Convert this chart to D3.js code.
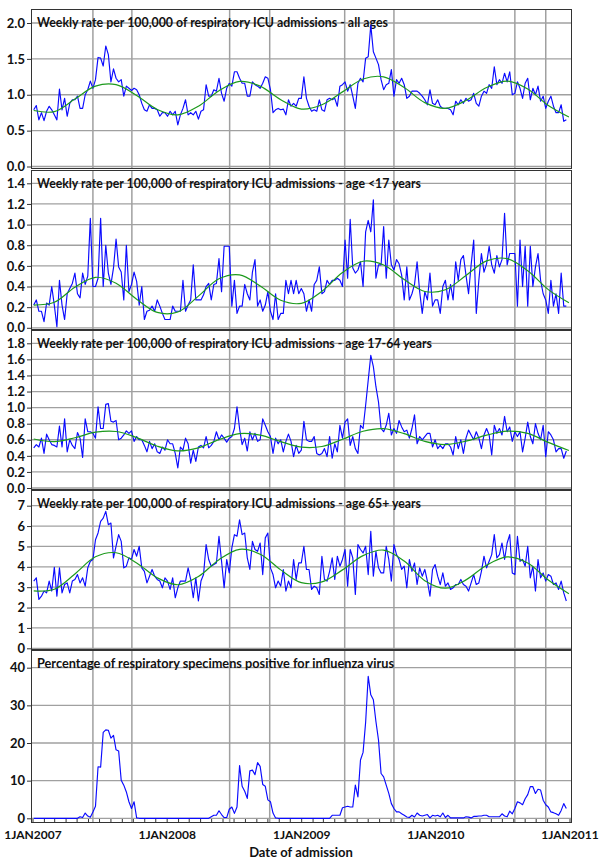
<!DOCTYPE html>
<html><head><meta charset="utf-8">
<script src="https://cdn.jsdelivr.net/npm/d3@7"></script>
<style>body{margin:0;background:#fff}svg{display:block}</style>
</head><body>
<svg id="chart" width="600" height="868"></svg>
<script>
// ---------------- DATA ----------------
const weekStart = "2007-01-03";           // first weekly observation
const smoothStepWeeks = 8;                 // smoothed curve knots every 8 weeks
const yearTickDates = ["2007-01-01","2008-01-01","2009-01-01","2010-01-01","2011-01-01"];
const yearTickLabels = ["1JAN2007","1JAN2008","1JAN2009","1JAN2010","1JAN2011"];
const seasonLineDates = ["2007-06-13","2007-09-27","2008-06-19","2008-10-06","2009-04-28","2009-09-09","2010-08-04","2010-10-27"];
const xAxisTitle = "Date of admission";

const panelTitles = [
  "Weekly rate per 100,000 of respiratory ICU admissions - all ages",
  "Weekly rate per 100,000 of respiratory ICU admissions - age <17 years",
  "Weekly rate per 100,000 of respiratory ICU admissions - age 17-64 years",
  "Weekly rate per 100,000 of respiratory ICU admissions - age 65+ years",
  "Percentage of respiratory specimens positive for influenza virus"
];

const yTicksAll = [0,0.5,1,1.5,2];
const yTickLabelsAll = ["0.0","0.5","1.0","1.5","2.0"];
const yTicksChild = [0,0.2,0.4,0.6,0.8,1.0,1.2,1.4];
const yTickLabelsChild = ["0.0","0.2","0.4","0.6","0.8","1.0","1.2","1.4"];
const yTicksAdult = [0,0.2,0.4,0.6,0.8,1.0,1.2,1.4,1.6,1.8];
const yTickLabelsAdult = ["0.0","0.2","0.4","0.6","0.8","1.0","1.2","1.4","1.6","1.8"];
const yTicksElder = [0,1,2,3,4,5,6,7];
const yTickLabelsElder = ["0","1","2","3","4","5","6","7"];
const yTicksFlu = [0,10,20,30,40];
const yTickLabelsFlu = ["0","10","20","30","40"];

const rateAllAges = [
0.79,0.85,0.65,0.75,0.64,0.77,0.84,0.79,0.72,0.65,
1.08,0.79,0.95,0.70,0.88,0.93,0.93,0.98,0.81,0.81,
1.00,1.07,1.19,1.09,1.21,1.52,1.51,1.40,1.68,1.56,
1.18,1.36,1.23,1.18,1.21,0.98,1.12,1.09,1.06,1.09,
1.07,1.00,0.88,0.79,0.77,0.86,0.81,0.81,0.79,0.70,
0.75,0.75,0.70,0.77,0.72,0.77,0.58,0.72,0.81,0.93,
0.72,0.75,0.72,0.77,0.66,0.77,0.79,1.14,0.98,0.98,
1.07,1.05,1.23,1.02,0.91,1.09,1.16,1.12,1.32,1.32,
1.23,1.16,1.16,0.98,0.98,1.18,1.14,1.12,1.09,1.16,
1.25,1.23,1.07,0.75,0.79,0.81,0.79,0.80,0.72,0.93,
0.84,0.88,0.84,0.95,
0.95,1.25,0.95,0.84,0.77,0.79,0.77,0.93,0.79,0.77,
0.93,0.95,0.93,0.95,0.84,1.12,1.14,1.18,1.05,1.14,
0.98,0.81,1.16,1.23,1.18,1.51,1.53,1.97,1.60,1.51,
1.42,1.21,1.07,1.14,1.16,1.35,0.98,1.21,1.16,1.23,
1.14,0.95,0.98,1.05,1.05,1.05,1.02,0.98,0.93,0.86,
1.07,0.88,0.86,0.93,0.84,0.81,0.81,0.81,0.79,
0.72,0.91,0.86,0.93,0.88,0.95,0.91,0.93,1.02,0.88,
0.84,0.98,1.05,1.02,1.14,1.09,1.39,1.14,1.21,1.16,
1.30,1.18,1.32,1.00,1.02,1.18,1.09,0.95,1.16,1.23,
0.93,1.09,1.00,1.12,0.91,0.98,0.81,0.91,0.98,0.84,
0.75,0.75,0.86,0.63,0.65
];
const smoothAllAges = [0.78,0.765,0.94,1.12,1.14,0.99,0.795,0.72,0.84,1.056,1.186,1.12,0.93,0.80,0.86,1.04,1.22,1.25,1.10,0.89,0.81,0.92,1.10,1.19,1.08,0.85,0.69];

const rateChild = [
0.22,0.27,0.16,0.16,0.06,0.24,0.22,0.40,0.22,0.01,
0.46,0.22,0.08,0.33,0.38,0.43,0.53,0.33,0.29,0.53,
0.42,0.50,1.06,0.40,0.40,0.48,1.06,0.40,0.80,0.53,
0.42,0.58,0.86,0.59,0.54,0.27,0.80,0.35,0.42,0.54,
0.45,0.22,0.40,0.08,0.16,0.17,0.21,0.16,0.27,0.21,
0.14,0.08,0.08,0.08,0.21,0.16,0.16,0.16,0.46,0.16,
0.22,0.27,0.61,0.27,0.27,0.27,0.32,0.40,0.43,0.27,
0.42,0.43,0.67,0.35,0.79,0.79,0.79,0.21,0.46,0.14,
0.21,0.21,0.42,0.33,0.27,0.54,0.66,0.21,0.27,0.16,
0.22,0.35,0.16,0.08,0.33,0.08,0.14,0.14,0.46,0.33,
0.46,0.33,0.46,0.33,
0.38,0.33,0.16,0.27,0.16,0.42,0.46,0.59,
0.33,0.35,0.46,0.42,0.46,0.46,0.48,0.46,0.40,
0.85,0.48,1.05,0.58,0.53,0.56,0.64,0.40,0.93,1.04,
0.93,1.24,0.48,0.61,0.61,0.98,0.48,0.85,0.61,0.56,
0.66,0.62,0.51,0.27,0.59,0.27,0.33,0.42,0.64,0.35,
0.14,0.35,0.27,0.53,0.21,0.27,0.27,0.14,0.40,0.46,
0.27,0.42,0.27,0.64,0.46,0.66,0.70,0.51,0.33,0.61,
0.85,0.14,0.46,0.72,0.54,0.62,0.79,0.61,0.53,0.70,
0.59,0.66,1.11,0.61,0.72,0.72,0.72,0.21,0.85,0.40,
0.79,0.21,0.79,0.40,0.59,0.72,0.46,0.33,0.27,0.14,
0.46,0.21,0.33,0.14,0.53,0.21,0.21
];
const smoothChild = [0.22,0.247,0.393,0.489,0.432,0.277,0.149,0.153,0.307,0.475,0.513,0.405,0.267,0.237,0.354,0.535,0.645,0.608,0.467,0.352,0.369,0.507,0.648,0.67,0.552,0.37,0.243];

const rateAdult = [
0.50,0.54,0.51,0.62,0.43,0.67,0.60,0.54,0.53,0.51,
0.77,0.51,0.86,0.45,0.60,0.53,0.49,0.69,0.62,0.38,
0.86,0.70,0.70,0.68,0.62,1.01,0.74,0.74,1.04,1.05,
0.83,0.82,0.84,0.60,0.62,0.66,0.71,0.68,0.71,0.58,
0.64,0.60,0.60,0.53,0.45,0.58,0.49,0.55,0.45,0.43,
0.51,0.47,0.60,0.55,0.55,0.43,0.25,0.51,0.47,0.62,
0.55,0.31,0.47,0.33,0.51,0.53,0.50,0.64,0.50,0.53,
0.58,0.70,0.60,0.66,0.62,0.57,0.62,0.64,0.74,1.01,
0.74,0.54,0.62,0.46,0.70,0.60,0.68,0.58,0.60,0.86,
0.78,0.70,0.64,0.43,0.62,0.55,0.60,0.45,0.58,0.67,
0.58,0.39,0.53,0.43,
0.47,0.83,0.60,0.58,0.58,0.64,0.43,0.41,0.43,0.49,
0.39,0.64,0.37,0.55,0.45,0.78,0.62,0.82,0.86,0.53,
0.64,0.49,0.43,0.78,0.74,1.03,1.34,1.65,1.51,1.26,
1.07,0.74,0.70,0.78,0.93,0.66,0.74,0.68,0.84,0.76,
0.70,0.72,0.62,0.74,0.91,0.55,0.64,0.60,0.64,0.68,
0.68,0.51,0.60,0.49,0.53,0.49,0.55,0.55,0.51,0.41,
0.64,0.49,0.60,0.43,0.62,0.72,0.66,0.60,0.70,0.62,
0.49,0.66,0.74,0.66,0.41,0.78,0.68,0.74,0.66,0.89,
0.70,0.76,0.58,0.70,0.64,0.70,0.45,0.62,0.82,0.64,
0.55,0.80,0.68,0.60,0.78,0.39,0.70,0.66,0.60,0.45,
0.49,0.49,0.37,0.46
];
const smoothAdult = [0.61,0.576,0.625,0.694,0.703,0.627,0.52,0.461,0.499,0.602,0.676,0.657,0.577,0.508,0.516,0.606,0.706,0.738,0.676,0.579,0.54,0.583,0.657,0.707,0.679,0.567,0.466];

const rateElder = [
3.30,3.46,2.40,2.56,2.81,2.72,3.30,2.81,3.98,2.56,
3.95,2.72,3.13,3.21,2.72,3.30,3.38,3.62,3.21,3.46,
3.05,3.95,4.27,4.36,5.33,5.66,6.23,6.39,6.72,6.07,
6.15,4.44,5.01,5.58,5.25,3.95,4.03,4.44,4.36,4.85,
4.52,5.01,3.95,3.78,3.21,3.54,3.87,3.54,3.38,3.30,
2.97,3.46,3.30,2.89,3.46,2.48,2.97,3.30,3.30,3.30,
3.95,3.38,2.48,3.46,2.32,3.30,3.62,5.09,4.36,4.03,
4.11,4.19,5.50,4.27,2.97,4.36,3.70,4.93,5.58,5.50,
6.31,5.58,5.66,4.44,3.87,5.25,4.85,4.76,5.17,3.62,
5.42,5.66,3.95,3.62,2.97,3.30,3.05,3.87,2.81,3.30,
2.97,4.36,3.38,4.19,
4.19,5.01,3.87,3.87,2.89,3.05,2.97,2.64,4.52,3.38,
3.30,3.78,4.44,3.38,4.52,4.03,4.36,4.85,3.05,4.85,
4.44,2.64,5.09,4.85,4.68,5.01,3.62,5.74,3.54,4.76,
3.95,3.70,3.70,5.01,4.36,3.30,5.09,4.60,4.36,3.87,
4.03,2.97,4.36,3.78,4.19,3.13,3.95,3.54,3.87,3.30,
2.56,3.87,4.11,3.54,3.13,3.70,3.05,3.21,2.89,2.97,
3.13,3.13,3.38,3.13,3.05,2.81,3.21,3.62,3.13,3.21,
3.78,4.52,3.95,4.27,4.60,5.58,4.44,4.60,5.17,4.36,
5.17,5.58,3.70,3.62,5.50,4.27,4.36,4.03,5.01,3.46,
4.03,2.81,4.36,3.46,3.70,3.30,3.62,3.54,3.13,3.21,
2.89,3.30,2.72,2.32
];
const smoothElder = [2.82,2.90,3.65,4.49,4.69,4.19,3.46,3.12,3.52,4.35,4.86,4.62,3.85,3.22,3.26,3.85,4.55,4.82,4.28,3.32,2.95,3.36,4.08,4.49,4.19,3.35,2.68];

const fluPositive = [
0,0,0,0,0,0,0,0,0,0,0,0,0,0,0,0,0,0,
0.4,0.2,1.4,0.6,0.3,1.7,3.2,13.7,13.6,22.8,23.5,23.4,21.3,22.0,18.2,17.9,10.1,8.8,7.0,4.4,2.6,4.4,0.1,
0,0,0,0,0,0,0,0,0,0,0,0,0,0,0,0,0,0,0,0,0,0,0,0,0,0,0,0,
0.4,0.8,0.8,2.0,1.0,0.2,0.2,2.4,3.0,1.3,3.0,14.0,8.5,7.2,5.3,12.6,12.8,11.6,14.8,13.8,9.0,8.5,4.9,4.4,1.4,0.1,
0,0,0,0,0,0,0,0,0,0,0,0,0,0,0,0,0,0,0,0,0,
0.8,0.8,0.8,0.8,
2.8,3.0,3.2,3.0,3.0,8.8,5.7,15.5,17.5,25.5,37.7,32.8,31.5,25.7,20.8,11.9,11.0,8.8,6.6,3.9,2.6,1.7,1.7,1.2,0.8,
0.36,0.2,0.8,0.36,1.4,0.8,0.6,0.8,1.0,0.1,
0.8,0.6,0.8,0.4,1.4,0.2,0.8,0.1,0.1,0.1,
0.1,0.1,0.1,0.4,0.3,0.1,0.5,0.5,0.6,0.6,
0.8,0.8,0.4,0.4,0.4,0.4,0.4,1.2,0.6,0.4,
1.9,1.2,2.6,4.4,4.1,3.6,5.2,6.3,8.4,8.4,
6.6,7.7,7.5,4.8,3.6,3.0,1.7,1.5,1.2,0.8,
2.1,3.9,2.6
];

// ---------------- DRAWING ----------------
const parse = d3.timeParse("%Y-%m-%d");
const t0 = parse(weekStart);
const svg = d3.select("#chart");
const FONT = "Lato, 'Open Sans', sans-serif";

const x = d3.scaleTime()
  .domain([parse(yearTickDates[0]), parse(yearTickDates[yearTickDates.length-1])])
  .range([33, 570]);
const plotL = 31, plotR = 571;

const panels = [
  {title: panelTitles[0], tw: 351, top: 9,   bottom: 168, zero: 166.5, topY: 23,    ticks: yTicksAll,   labels: yTickLabelsAll,   raw: rateAllAges, smooth: smoothAllAges},
  {title: panelTitles[1], tw: 384, top: 170, bottom: 329, zero: 327.8, topY: 183.3, ticks: yTicksChild, labels: yTickLabelsChild, raw: rateChild,   smooth: smoothChild},
  {title: panelTitles[2], tw: 395, top: 330, bottom: 489, zero: 488,   topY: 343.3, ticks: yTicksAdult, labels: yTickLabelsAdult, raw: rateAdult,   smooth: smoothAdult},
  {title: panelTitles[3], tw: 384, top: 490, bottom: 649, zero: 648.3, topY: 505.7, ticks: yTicksElder, labels: yTickLabelsElder, raw: rateElder,   smooth: smoothElder},
  {title: panelTitles[4], tw: 357, top: 650, bottom: 822, zero: 818.3, topY: 667.7, ticks: yTicksFlu,   labels: yTickLabelsFlu,   raw: fluPositive, smooth: null}
];

panels.forEach(p => {
  const y = d3.scaleLinear()
    .domain([0, p.ticks[p.ticks.length-1]])
    .range([p.zero, p.topY]);
  const g = svg.append("g");

  // horizontal gridlines
  g.selectAll("line.h").data(p.ticks).join("line")
    .attr("x1", plotL).attr("x2", plotR)
    .attr("y1", d => y(d)).attr("y2", d => y(d))
    .attr("stroke", "#a0a0a0").attr("stroke-width", 1.3);

  // season vertical lines
  g.selectAll("line.v").data(seasonLineDates).join("line")
    .attr("x1", d => x(parse(d))).attr("x2", d => x(parse(d)))
    .attr("y1", p.top).attr("y2", p.bottom)
    .attr("stroke", "#a0a0a0").attr("stroke-width", 1.5);

  // frame
  g.append("rect")
    .attr("x", plotL + 0.5).attr("y", p.top + 0.5)
    .attr("width", plotR - plotL).attr("height", p.bottom - p.top)
    .attr("fill", "none").attr("stroke", "#333").attr("stroke-width", 1);

  // y axis ticks + labels
  const yAxis = d3.axisLeft(y).tickValues(p.ticks)
    .tickFormat((d, i) => p.labels[i]).tickSize(4).tickPadding(2);
  const ax = g.append("g").attr("transform", `translate(${plotL},0)`).call(yAxis);
  ax.select(".domain").remove();
  ax.selectAll(".tick line").attr("stroke", "#333");
  ax.selectAll(".tick text")
    .attr("font-family", FONT).attr("font-weight", "bold")
    .attr("font-size", 13).attr("fill", "#111");

  // title
  g.append("text")
    .attr("x", 37).attr("y", p.top + 17.5)
    .attr("font-family", FONT).attr("font-weight", "bold")
    .attr("font-size", 13.5).attr("fill", "#111")
    .attr("textLength", p.tw).attr("lengthAdjust", "spacingAndGlyphs")
    .text(p.title);

  // weekly series
  const line = d3.line()
    .x((d, i) => x(d3.timeDay.offset(t0, i * 7)))
    .y(d => y(d));
  g.append("path").datum(p.raw)
    .attr("d", line).attr("fill", "none")
    .attr("stroke", "#0a0aff").attr("stroke-width", 1.15)
    .attr("stroke-linejoin", "round");

  // smoothed series
  if (p.smooth) {
    const sline = d3.line()
      .x((d, i) => x(d3.timeDay.offset(t0, i * 7 * smoothStepWeeks)))
      .y(d => y(d))
      .curve(d3.curveCatmullRom.alpha(0.5));
    g.append("path").datum(p.smooth)
      .attr("d", sline).attr("fill", "none")
      .attr("stroke", "#1d9a1d").attr("stroke-width", 1.2);
  }
});

// bottom x axis (month minor ticks + year labels)
const last = panels[panels.length-1];
const months = d3.timeMonth.range(parse(yearTickDates[0]), d3.timeDay.offset(parse(yearTickDates[yearTickDates.length-1]), 1));
svg.append("g").selectAll("line").data(months).join("line")
  .attr("x1", d => x(d)).attr("x2", d => x(d))
  .attr("y1", last.bottom - 3).attr("y2", last.bottom)
  .attr("stroke", "#333").attr("stroke-width", 1);

svg.append("g").selectAll("text").data(yearTickDates).join("text")
  .attr("x", d => x(parse(d))).attr("y", 839)
  .attr("text-anchor", "middle")
  .attr("font-family", FONT).attr("font-weight", "bold")
  .attr("font-size", 12).attr("fill", "#111")
  .text((d, i) => yearTickLabels[i]);

svg.append("text")
  .attr("x", 301).attr("y", 857).attr("text-anchor", "middle")
  .attr("font-family", FONT).attr("font-weight", "bold")
  .attr("font-size", 13).attr("fill", "#111")
  .text(xAxisTitle);
</script>
</body></html>
